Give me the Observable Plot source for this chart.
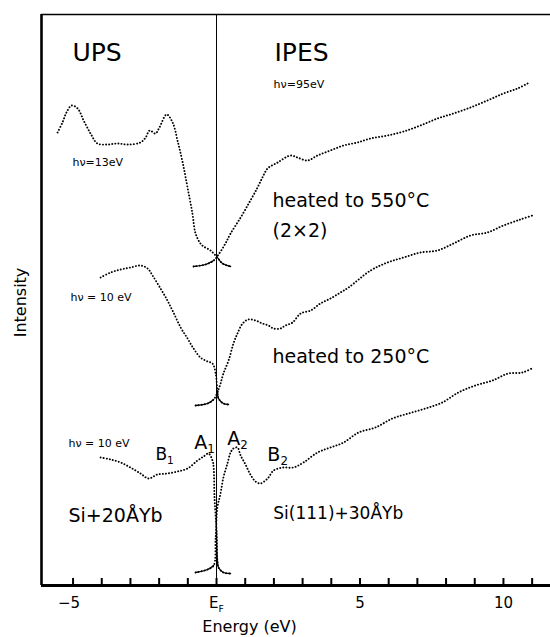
<!DOCTYPE html>
<html><head><meta charset="utf-8">
<script src="https://cdn.jsdelivr.net/npm/d3@7"></script>
<script src="https://cdn.jsdelivr.net/npm/@observablehq/plot@0.6"></script>
<style>body{margin:0;background:#fff}</style>
</head><body><div id="chart"></div>
<script>
// ---- data (energy in eV relative to E_F, intensity in arbitrary units) ----
const xTicks = [-5,-4,-3,-2,-1,0,1,2,3,4,5,6,7,8,9,10,11];
const xTickLabelValues = [-5, 0, 5, 10];
const xTickLabelTexts = ["−5", "E_F", "5", "10"];

// 550 °C, UPS hν = 13 eV
const ups550E = [-5.54,-5.37,-5.23,-5.05,-4.84,-4.63,-4.39,-4.15,-3.80,-3.45,-3.10,-2.65,-2.47,-2.33,-2.13,-1.99,-1.74,-1.53,-1.36,-1.18,-1.01,-0.84,-0.73,-0.56,-0.45,-0.21,0.03,0.21,0.49];
const ups550I = [453,463,473,480,477,465,452,442,441,442,441,443,448,455,452,458,471,463,445,423,398,372,352,342,339,335,328,322,319];
// 550 °C, IPES
const ipes550E = [-0.80,-0.38,-0.10,0.07,0.31,0.49,0.84,1.18,1.43,1.60,1.78,2.13,2.58,2.82,3.17,3.52,3.97,4.43,4.91,5.37,5.96,6.52,7.11,7.70,8.26,8.85,9.44,10.00,10.49,10.84];
const ipes550I = [319,321,325,331,342,352,368,385,398,408,417,423,430,428,425,430,435,440,443,447,450,454,460,467,472,478,485,492,497,502];

// 250 °C, UPS hν = 10 eV
const ups250E = [-4.04,-3.69,-3.34,-3.00,-2.65,-2.40,-2.23,-1.95,-1.71,-1.50,-1.25,-1.01,-0.80,-0.56,-0.31,-0.14,-0.03,0.03,0.07,0.24,0.42];
const ups250I = [308,313,316,318,320,317,310,297,285,273,258,247,237,228,224,222,212,195,187,182,181];
// 250 °C, IPES
const ipes250E = [-0.73,-0.31,-0.10,0.03,0.14,0.24,0.42,0.59,0.73,0.91,1.11,1.36,1.60,1.81,1.99,2.23,2.40,2.65,2.93,3.28,3.62,3.97,4.32,4.60,5.37,5.96,6.52,7.11,7.70,8.26,8.85,9.44,10.00,10.59,11.01];
const ipes250I = [180,182,186,193,202,212,225,242,252,262,266,265,262,260,257,257,260,263,272,275,282,287,293,298,315,323,328,333,335,342,350,353,360,366,370];

// Si + 20 Å Yb, UPS hν = 10 eV
const upsYbE = [-4.04,-3.69,-3.34,-3.00,-2.65,-2.37,-2.06,-1.71,-1.36,-1.01,-0.66,-0.45,-0.28,-0.14,-0.10,-0.07,0.00,0.03,0.07,0.24,0.49];
const upsYbI = [128,126,123,118,112,107,111,112,114,117,125,129,132,125,118,88,55,25,18,13,12];
// Si(111) + 30 Å Yb, IPES
const ipesYbE = [-0.73,-0.31,-0.10,-0.03,0.03,0.14,0.24,0.38,0.49,0.59,0.73,0.84,1.01,1.18,1.36,1.53,1.78,1.99,2.33,2.68,3.03,3.52,3.97,4.43,4.95,5.54,6.13,6.69,7.28,7.87,8.43,9.02,9.62,10.17,10.66,11.05];
const ipesYbI = [13,16,20,48,78,92,108,122,133,137,138,130,121,111,104,102,107,115,118,118,123,133,138,143,153,158,167,172,177,183,193,200,205,212,213,218];

// annotations
const labelTexts = ["UPS","IPES","hν=95eV","hν=13eV","hν = 10 eV","hν = 10 eV","heated to 550°C","(2×2)","heated to 250°C","A_1","A_2","B_1","B_2","Si+20ÅYb","Si(111)+30ÅYb"];
const labelE = [-5.02, 2.02, 1.99, -5.02, -5.09, -5.16, 1.95, 1.95, 1.95, -0.42, 0.73, -1.81, 2.13, -5.16, 1.98];
const labelI = [533, 533, 501, 423, 288, 142, 385, 355, 229, 143, 147, 131, 131, 70, 72];
const labelSize = [25, 25, 11, 11, 11, 11, 19, 19, 19, 19, 19, 17, 19, 19, 17];

// ---- build ----
const series = (E, I) => E.map((e, k) => ({e, i: I[k]}));
const ups = [series(ups550E, ups550I), series(ups250E, ups250I), series(upsYbE, upsYbI)];
const ipes = [series(ipes550E, ipes550I), series(ipes250E, ipes250I), series(ipesYbE, ipesYbI)];
const labels = labelTexts.map((t, k) => ({t, e: labelE[k], i: labelI[k], s: labelSize[k]}));
const tickLabels = xTickLabelValues.map((v, k) => ({v, t: xTickLabelTexts[k]}));

const dotted = {x: "e", y: "i", curve: "catmull-rom", stroke: "black", strokeWidth: 1.9, strokeDasharray: "0.1 3", strokeLinecap: "round"};
const solid = {x: "e", y: "i", curve: "catmull-rom", stroke: "black", strokeWidth: 1.3};

const marks = [
  Plot.ruleY([571], {stroke: "black", strokeWidth: 1.6}),
  Plot.ruleX([-6.1], {stroke: "black", strokeWidth: 2.6}),
  Plot.ruleX([0], {stroke: "black", strokeWidth: 1}),
  Plot.ruleX(xTicks, {y1: 0, y2: 7, stroke: "black", strokeWidth: 2}),
  Plot.ruleY([0], {stroke: "black", strokeWidth: 2.8}),
];
for (const s of ups) {
  marks.push(Plot.line(s, dotted));
  marks.push(Plot.line(s.filter(d => d.e >= 0), solid));
}
for (const s of ipes) {
  marks.push(Plot.line(s, dotted));
  marks.push(Plot.line(s.filter(d => d.e <= -0.1), solid));
}
marks.push(
  Plot.text(labels.filter(d => !d.t.includes("_")), {x: "e", y: "i", text: "t", fontSize: "s", textAnchor: "start", fill: "black"}),
  Plot.text(labels.filter(d => d.t.includes("_")), {x: "e", y: "i", text: "t", fontSize: "s", textAnchor: "middle", fill: "black"}),
  Plot.text(tickLabels.filter(d => d.v >= 0), {x: "v", y: () => -18, text: "t", lineAnchor: "middle", fontSize: 15, fill: "black"}),
  Plot.text(tickLabels.filter(d => d.v < 0), {x: "v", y: () => -18, text: "t", lineAnchor: "middle", fontSize: 15, dx: -4, fill: "black"}),
  Plot.text(["Energy (eV)"], {x: 1.15, y: -41, lineAnchor: "middle", fontSize: 16, fill: "black"}),
  Plot.text(["Intensity"], {x: -6.83, y: 283, textAnchor: "middle", lineAnchor: "middle", rotate: -90, fontSize: 16, fill: "black"})
);

const chart = Plot.plot({
  width: 550, height: 637,
  marginLeft: 41, marginRight: 0, marginTop: 14, marginBottom: 52,
  x: {domain: [-6.1, 11.64], axis: null},
  y: {domain: [0, 571], axis: null},
  style: {fontFamily: "DejaVu Sans, sans-serif", background: "white", color: "black"},
  marks
});

// subscripts written as X_Y
chart.querySelectorAll("text").forEach(t => {
  const txt = t.textContent;
  if (txt.includes("_") && t.children.length === 0) {
    const [main, sub] = txt.split("_");
    t.textContent = main;
    const ts = document.createElementNS("http://www.w3.org/2000/svg", "tspan");
    ts.setAttribute("font-size", "0.62em");
    ts.setAttribute("dy", "0.35em");
    ts.textContent = sub;
    t.appendChild(ts);
  }
});
document.getElementById("chart").appendChild(chart);
</script>
</body></html>
